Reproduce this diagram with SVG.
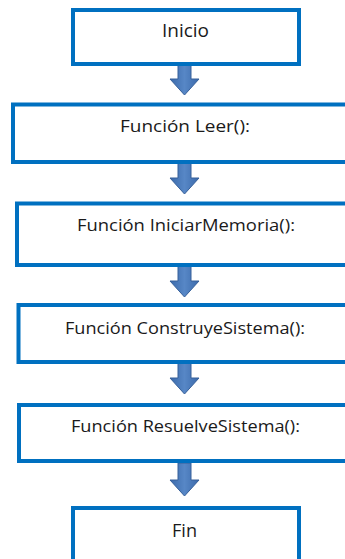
<svg xmlns="http://www.w3.org/2000/svg" width="345" height="559" viewBox="0 0 345 559">
  <defs>
    <linearGradient id="arrowFill" x1="0" y1="0" x2="1" y2="0">
      <stop offset="0" stop-color="#3b6aab"/>
      <stop offset="0.5" stop-color="#5787c6"/>
      <stop offset="1" stop-color="#3b6aab"/>
    </linearGradient>
    <!-- block arrow pointing down, tip at origin -->
    <path id="blockArrow" d="M -6.5 -33 L 6.5 -33 L 6.5 -16 L 14.5 -16 L 0 0 L -14.5 -16 L -6.5 -16 Z"/>
  </defs>
  <style>
    .box { fill: #ffffff; stroke: #0070c0; stroke-width: 4; }
    .arrow { fill: url(#arrowFill); stroke: #36609a; stroke-width: 1; }
    .label { font-family: "Open Sans", "Liberation Sans", sans-serif; fill: #1a1a1a; text-anchor: middle; }
    .small { font-size: 17px; }
    .large { font-size: 18.5px; }
  </style>
  <rect width="345" height="559" fill="#ffffff"/>

  <g id="connectors">
    <use href="#blockArrow" class="arrow" transform="translate(184.5,95)"/>
    <use href="#blockArrow" class="arrow" transform="translate(184.5,194)"/>
    <use href="#blockArrow" class="arrow" transform="translate(184.5,297)"/>
    <use href="#blockArrow" class="arrow" transform="translate(184.5,394)"/>
    <use href="#blockArrow" class="arrow" transform="translate(184.5,496)"/>
  </g>

  <g id="inicio">
    <rect class="box" x="73" y="10" width="226" height="54"/>
    <text class="label large" x="185.5" y="37" textLength="47" lengthAdjust="spacingAndGlyphs">Inicio</text>
  </g>

  <g id="leer">
    <rect class="box" x="13" y="104.5" width="345" height="57.5"/>
    <text class="label small" x="185" y="132" textLength="130" lengthAdjust="spacingAndGlyphs">Función Leer():</text>
  </g>

  <g id="iniciar-memoria">
    <rect class="box" x="17" y="203.5" width="345" height="61.5"/>
    <text class="label small" x="186" y="231" textLength="218" lengthAdjust="spacingAndGlyphs">Función IniciarMemoria():</text>
  </g>

  <g id="construye-sistema">
    <rect class="box" x="18.5" y="305" width="345" height="57"/>
    <text class="label small" x="185" y="334" textLength="240" lengthAdjust="spacingAndGlyphs">Función ConstruyeSistema():</text>
  </g>

  <g id="resuelve-sistema">
    <rect class="box" x="19" y="405" width="345" height="56"/>
    <text class="label small" x="185.5" y="432" textLength="229" lengthAdjust="spacingAndGlyphs">Función ResuelveSistema():</text>
  </g>

  <g id="fin">
    <rect class="box" x="73" y="508" width="226" height="70"/>
    <text class="label large" x="184.5" y="537" textLength="25" lengthAdjust="spacingAndGlyphs">Fin</text>
  </g>
</svg>
